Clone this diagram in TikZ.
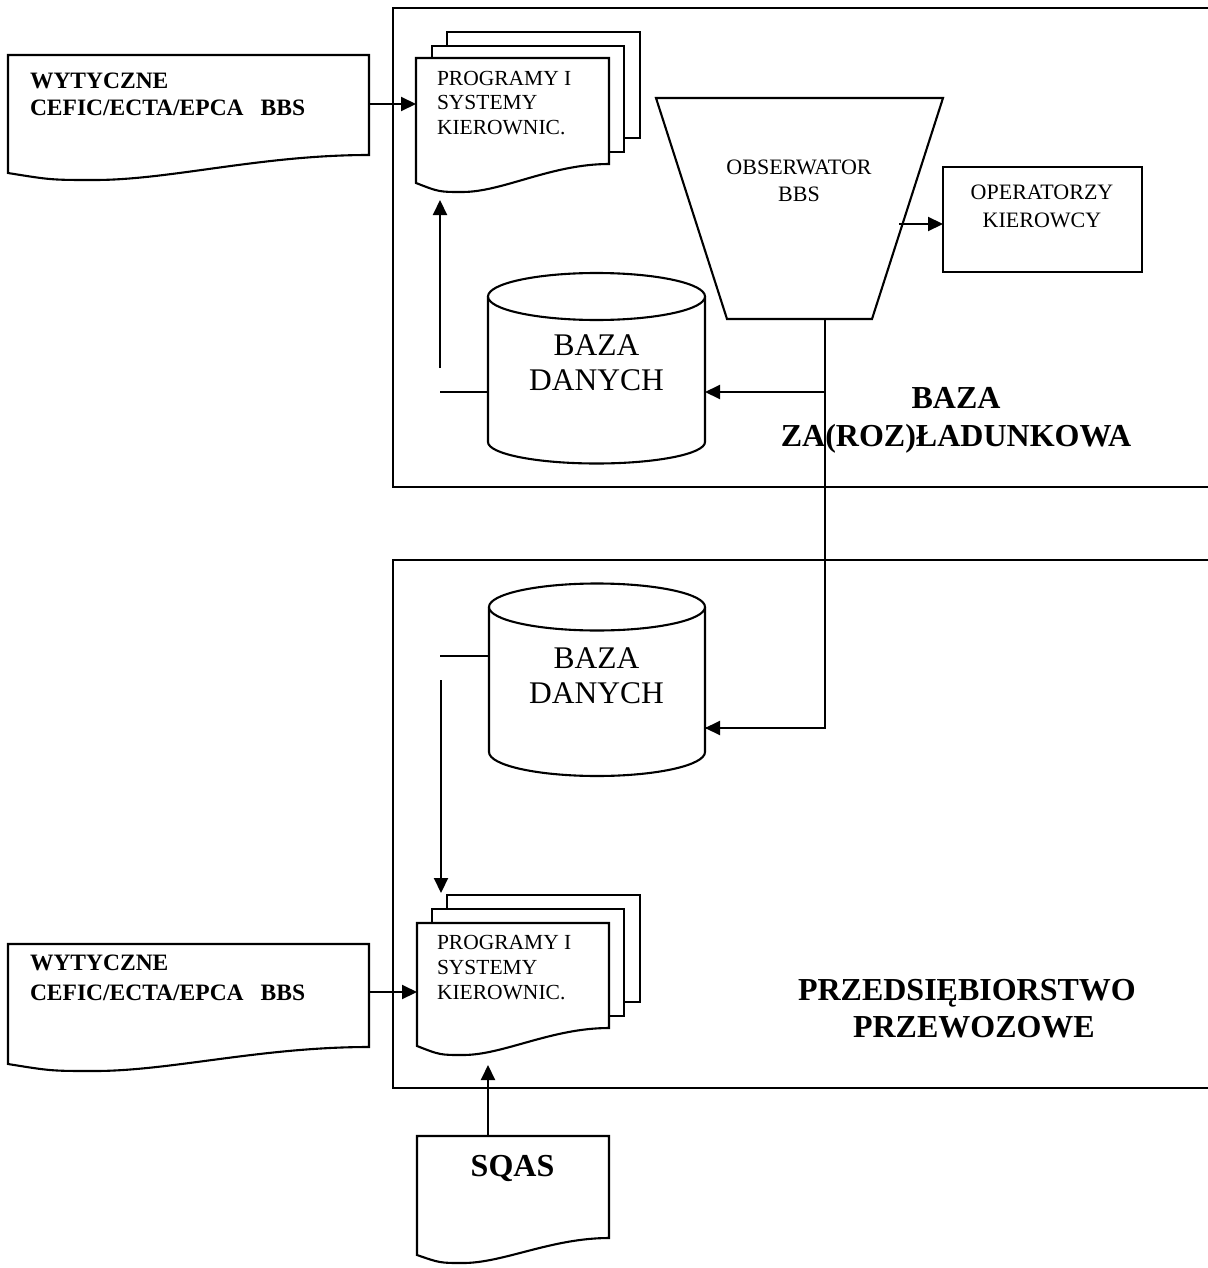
\documentclass[tikz,border=0pt]{standalone}
\usepackage{fontspec}
\setmainfont{Liberation Serif}
\usetikzlibrary{arrows.meta,calc}
\newcommand\docshape[6]{% x1 y1 x2 yright yleft ymin
  \draw[paper] (#1,#2) -- (#3,#2) -- (#3,#4)
    .. controls ({#3-0.3*(#3-#1)},#4) and ({#1+0.45*(#3-#1)},#6) .. ({#1+0.24*(#3-#1)},#6)
    .. controls ({#1+0.12*(#3-#1)},#6) .. (#1,#5) -- cycle;}
\begin{document}
\begin{tikzpicture}[x=1pt,y=-1pt,line width=2.1pt,line join=miter,
  arr/.style={-{Triangle[length=15pt,width=14pt]}},
  frame/.style={draw=none,inner sep=0pt,outer sep=0pt,anchor=north west},
  paper/.style={draw,fill=white},
  lbl/.style={inner sep=0pt,outer sep=0pt,align=left,anchor=north west},
  lblc/.style={inner sep=0pt,outer sep=0pt,align=center,anchor=north},
  wytfont/.style={font={\fontsize{23.5}{#1}\selectfont\bfseries}},
  progfont/.style={font={\fontsize{21.5}{#1}\selectfont}},
  midfont/.style={font={\fontsize{22}{#1}\selectfont}},
  bigfont/.style={font={\fontsize{31.5}{#1}\selectfont}},
  bigbold/.style={font={\fontsize{32}{#1}\selectfont\bfseries}},
]
\useasboundingbox (0,0) rectangle (1207,1268);

% ---------- frames of the two areas ----------
\draw (1212,8) -- (393,8) -- (393,487) -- (1212,487);
\draw (1212,560) -- (393,560) -- (393,1088) -- (1212,1088);

% ---------- upper area ----------
% guidelines document
\node[frame,minimum width=361pt,minimum height=98pt] (wyt1) at (8,55) {};
\docshape{8}{55}{369}{155}{173}{180}
\node[lbl,wytfont=27] (wyt1t) at (30,73) {WYTYCZNE\\CEFIC/ECTA/EPCA\hspace{17pt}BBS};

% multi-document
\draw[paper] (447,32) rectangle (640,138);
\draw[paper] (432,46) rectangle (624,152);
\node[frame,minimum width=193pt,minimum height=106pt] (prog1) at (416,58) {};
\docshape{416}{58}{609}{164}{183}{192}
\node[lbl,progfont=24.5] (prog1t) at (437,71) {PROGRAMY I\\SYSTEMY\\KIEROWNIC.};

% observer (trapezoid)
\draw[paper] (656,98) -- (943,98) -- (872,319) -- (727,319) -- cycle;
\node[frame,minimum width=287pt,minimum height=221pt] (obs) at (656,98) {};
\node[lblc,midfont=26.7] (obst) at (799,160) {OBSERWATOR\\BBS};
\coordinate (obsb) at (825,319);
\coordinate (obsr) at (899,224);

% operators box
\node[frame,draw,minimum width=199pt,minimum height=105pt] (oper) at (943,167) {};
\node[lblc,midfont=28] (opert) at (1042,185) {OPERATORZY\\KIEROWCY};

% database (cylinder)
\node[frame,minimum width=217pt,minimum height=190pt] (db1) at (488,273) {};
\draw[paper] (488,296.5) -- (488,442) arc[start angle=180,end angle=360,x radius=108.5pt,y radius=21.5pt] -- (705,296.5);
\draw[paper] (596.5,296.5) ellipse[x radius=108.5pt,y radius=23.5pt];
\node[lblc,bigfont=35] (db1t) at (596.5,335) {BAZA\\DANYCH};

\node[lblc,bigbold=38] (bazat) at (956,387) {BAZA\\ZA(ROZ)ŁADUNKOWA};

% ---------- lower area ----------
\node[frame,minimum width=216pt,minimum height=192pt] (db2) at (489,583) {};
\draw[paper] (489,607) -- (489,752) arc[start angle=180,end angle=360,x radius=108pt,y radius=24pt] -- (705,607);
\draw[paper] (597,607) ellipse[x radius=108pt,y radius=23.5pt];
\node[lblc,bigfont=35] (db2t) at (596.5,648) {BAZA\\DANYCH};

\draw[paper] (447,895) rectangle (640,1002);
\draw[paper] (432,909) rectangle (624,1016);
\node[frame,minimum width=192pt,minimum height=105pt] (prog2) at (417,923) {};
\docshape{417}{923}{609}{1028}{1046}{1055}
\node[lbl,progfont=25] (prog2t) at (437,935) {PROGRAMY I\\SYSTEMY\\KIEROWNIC.};

\node[frame,minimum width=361pt,minimum height=96pt] (wyt2) at (8,944) {};
\docshape{8}{944}{369}{1047}{1064}{1071}
\node[lbl,wytfont=30] (wyt2t) at (30,955) {WYTYCZNE\\CEFIC/ECTA/EPCA\hspace{17pt}BBS};

\node[lbl,bigbold=37] (przt) at (798,979) {PRZEDSIĘBIORSTWO\\\hspace*{55pt}PRZEWOZOWE};

\node[frame,minimum width=192pt,minimum height=102pt] (sqas) at (417,1136) {};
\docshape{417}{1136}{609}{1238}{1255}{1263}
\node[lblc,bigbold=37] (sqast) at (512.5,1155) {SQAS};

% ---------- connectors ----------
\coordinate (j1) at (825,392);
\coordinate (j2) at (825,728);
\coordinate (s1) at (440,392);
\coordinate (u1a) at (440,368);
\coordinate (u1b) at (440,200);
\coordinate (s2) at (440,656);
\coordinate (d2a) at (441,680);
\coordinate (d2b) at (441,893);
\coordinate (u3) at (488,1065);

\draw[arr] (wyt1.east) -- (wyt1.east -| prog1.west);
\draw[arr] (u1a) -- (u1b);
\draw (s1) -- (s1 -| db1.west);
\draw[arr] (obsr) -- (obsr -| oper.west);
\draw (obsb) -- (j2) -- (j2 -| db2.east);
\draw[arr] (j2) -- (j2 -| db2.east);
\draw[arr] (j1) -- (j1 -| db1.east);
\draw (s2) -- (s2 -| db2.west);
\draw[arr] (d2a) -- (d2b);
\draw[arr] (wyt2.east) -- (wyt2.east -| prog2.west);
\draw[arr] (u3 |- sqas.north) -- (u3);
\end{tikzpicture}
\end{document}
